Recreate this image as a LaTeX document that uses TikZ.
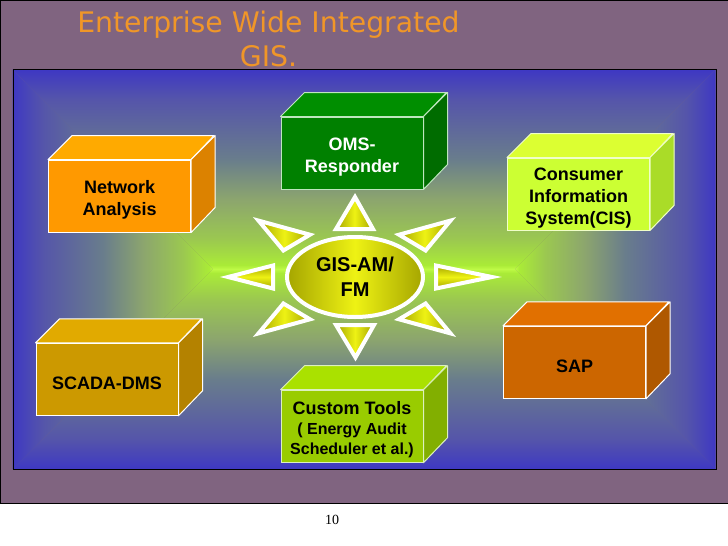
\documentclass[tikz,border=0pt]{standalone}
\usepackage{fontspec}
\setmainfont{Liberation Sans}
\newfontfamily\titlefont{DejaVu Sans}
\newfontfamily\pagefont{Liberation Serif}
\usetikzlibrary{shapes.geometric}

\definecolor{slidebg}{RGB}{128,100,128}
\definecolor{titleorange}{RGB}{240,150,40}
\definecolor{rayolive}{RGB}{165,165,0}
\definecolor{rayyellow}{RGB}{238,242,20}

\definecolor{bandA}{RGB}{190,250,70}
\definecolor{bandB}{RGB}{170,235,55}
\definecolor{bandC}{RGB}{155,200,80}
\definecolor{bandD}{RGB}{140,165,110}
\definecolor{bandE}{RGB}{105,125,140}
\definecolor{bandF}{RGB}{85,85,170}
\definecolor{bandG}{RGB}{62,56,195}
\pgfdeclareverticalshading{bandshade}{100bp}{
  color(0bp)=(bandA); color(25bp)=(bandA); color(26bp)=(bandB);
  color(32.5bp)=(bandC); color(42.5bp)=(bandD); color(52.5bp)=(bandE);
  color(67.5bp)=(bandF); color(75bp)=(bandG); color(100bp)=(bandG)}

\newcommand{\droptext}{\rule{0pt}{20pt}}

\tikzset{
  band/.style={shading=bandshade},
  block/.style={rectangle,draw=white,line width=1pt,minimum width=142pt,minimum height=72pt,
    inner sep=0pt,align=center,font=\fontsize{18}{22}\selectfont\bfseries},
  blockface/.style={draw=white,line width=1pt,line join=round},
  rayh/.style={draw=white,line width=4pt,left color=rayolive,right color=rayolive,middle color=rayyellow},
  rayv/.style={draw=white,line width=4pt,top color=rayolive,bottom color=rayolive,middle color=rayyellow}
}

\begin{document}
\begin{tikzpicture}[x=1pt,y=-1pt]
\useasboundingbox (0,0) rectangle (728,546);

\draw[black,fill=slidebg] (0.5,0.5) rectangle (730,503);

% rectangular gradient panel
\path[band,shading angle=0] (12.7,69.5) -- (715.7,69.5) -- (515,269) -- (213,269) -- cycle;
\path[band,shading angle=180] (12.7,469) -- (715.7,469) -- (515,269) -- (213,269) -- cycle;
\path[band,shading angle=90] (12.7,69.5) -- (213,269) -- (12.7,469) -- cycle;
\path[band,shading angle=270] (715.7,69.5) -- (515,269) -- (715.7,469) -- cycle;
\draw[black] (12.7,69.5) rectangle (715.7,469);

\node[font=\titlefont\fontsize{28.3}{34}\selectfont,text=titleorange,align=center,inner sep=0pt] (title) at (268.5,38.5) {Enterprise Wide Integrated\\GIS.};
\node[font=\pagefont\fontsize{14}{16}\selectfont,inner sep=0pt] (pagenum) at (332,520) {10};

% Network Analysis
\node[block,fill={rgb,255:red,255;green,153;blue,0},text=black] (net) at (119.6,196) {\droptext Network\\Analysis};
\draw[blockface,fill={rgb,255:red,255;green,170;blue,0}] (net.north west) -- ++(24,-24) -- ++(142,0) -- (net.north east) -- cycle;
\draw[blockface,fill={rgb,255:red,220;green,130;blue,0}] (net.north east) -- ++(24,-24) -- ++(0,72) -- (net.south east) -- cycle;

% OMS
\node[block,draw={rgb,255:red,190;green,230;blue,190},fill={rgb,255:red,0;green,128;blue,0},text=white] (oms) at (352,153) {\droptext OMS-\\Responder};
\draw[blockface,draw={rgb,255:red,190;green,230;blue,190},fill={rgb,255:red,0;green,142;blue,0}] (oms.north west) -- ++(24,-24) -- ++(142,0) -- (oms.north east) -- cycle;
\draw[blockface,draw={rgb,255:red,190;green,230;blue,190},fill={rgb,255:red,0;green,108;blue,0}] (oms.north east) -- ++(24,-24) -- ++(0,72) -- (oms.south east) -- cycle;

% Consumer
\node[block,draw={rgb,255:red,240;green,255;blue,200},fill={rgb,255:red,204;green,255;blue,51},text=black] (cis) at (578.5,194) {\droptext Consumer\\Information\\System(CIS)};
\draw[blockface,draw={rgb,255:red,240;green,255;blue,200},fill={rgb,255:red,220;green,255;blue,50}] (cis.north west) -- ++(24,-24) -- ++(142,0) -- (cis.north east) -- cycle;
\draw[blockface,draw={rgb,255:red,240;green,255;blue,200},fill={rgb,255:red,170;green,220;blue,40}] (cis.north east) -- ++(24,-24) -- ++(0,72) -- (cis.south east) -- cycle;

% SCADA
\node[block,fill={rgb,255:red,204;green,153;blue,0},text=black] (scada) at (107,379.3) {\droptext SCADA-DMS};
\draw[blockface,fill={rgb,255:red,225;green,170;blue,0}] (scada.north west) -- ++(24,-24) -- ++(142,0) -- (scada.north east) -- cycle;
\draw[blockface,fill={rgb,255:red,180;green,130;blue,0}] (scada.north east) -- ++(24,-24) -- ++(0,72) -- (scada.south east) -- cycle;

% Custom Tools
\node[block,draw={rgb,255:red,220;green,240;blue,190},fill={rgb,255:red,153;green,204;blue,0},text=black] (custom) at (352,426.2) {\droptext Custom Tools\\[-2pt]{\fontsize{16}{20}\selectfont ( Energy Audit}\\[-2pt]{\fontsize{16}{20}\selectfont Scheduler et al.)}};
\draw[blockface,draw={rgb,255:red,220;green,240;blue,190},fill={rgb,255:red,170;green,225;blue,0}] (custom.north west) -- ++(24,-24) -- ++(142,0) -- (custom.north east) -- cycle;
\draw[blockface,draw={rgb,255:red,220;green,240;blue,190},fill={rgb,255:red,130;green,175;blue,0}] (custom.north east) -- ++(24,-24) -- ++(0,72) -- (custom.south east) -- cycle;

% SAP
\node[block,fill={rgb,255:red,204;green,102;blue,0},text=black] (sap) at (574.5,362.3) {\droptext SAP};
\draw[blockface,fill={rgb,255:red,225;green,112;blue,0}] (sap.north west) -- ++(24,-24) -- ++(142,0) -- (sap.north east) -- cycle;
\draw[blockface,fill={rgb,255:red,175;green,88;blue,0}] (sap.north east) -- ++(24,-24) -- ++(0,72) -- (sap.south east) -- cycle;

% rays
\draw[rayh] (355,197) -- (373,229) -- (336,229) -- cycle;
\draw[rayh] (355.5,357.5) -- (374,325) -- (336,325) -- cycle;
\draw[rayv] (228,277) -- (273,265.5) -- (273,288.5) -- cycle;
\draw[rayv] (492,277) -- (436,265.5) -- (436,288.5) -- cycle;
\draw[rayh] (258.5,220.6) -- (310,234.7) -- (283.4,250.5) -- cycle;
\draw[rayh] (450.5,220.6) -- (399,234.7) -- (425.6,250.5) -- cycle;
\draw[rayh] (258.5,333.4) -- (310,319.3) -- (283.4,303.5) -- cycle;
\draw[rayh] (450.5,333.4) -- (399,319.3) -- (425.6,303.5) -- cycle;

\node[ellipse,draw=white,line width=4pt,left color=rayolive,right color=rayolive,middle color=rayyellow,
  minimum width=136pt,minimum height=80pt,inner sep=0pt,align=center,
  font=\fontsize{20}{25}\selectfont\bfseries] (hub) at (355,277) {GIS-AM/\\FM};
\end{tikzpicture}
\end{document}
